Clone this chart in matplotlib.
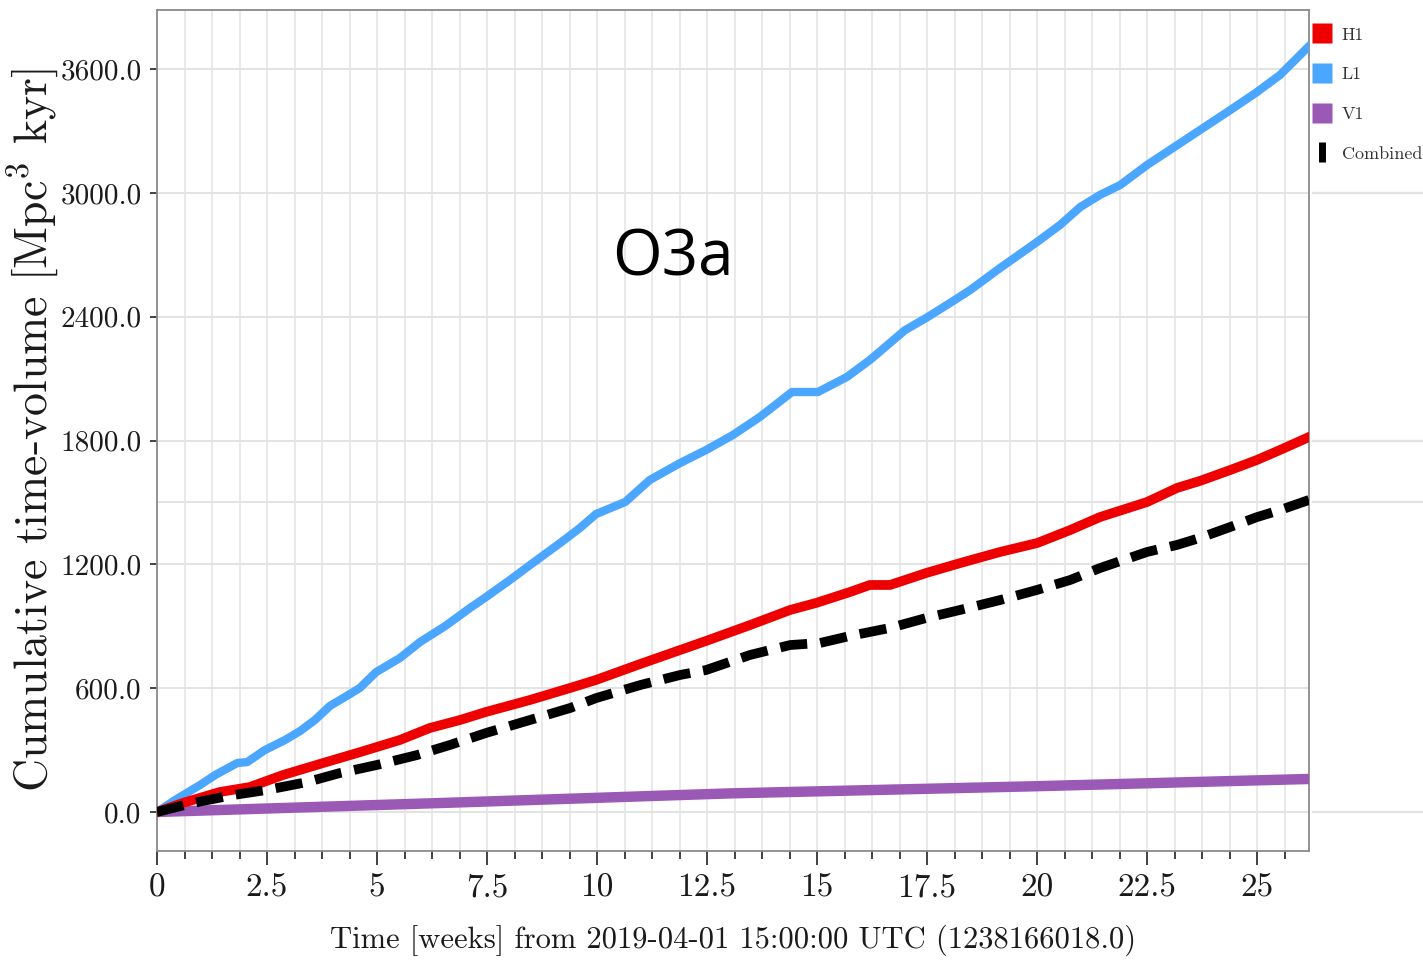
import matplotlib
matplotlib.use("Agg")
import matplotlib.pyplot as plt
from matplotlib.lines import Line2D
from matplotlib.transforms import blended_transform_factory

plt.rcParams['font.family'] = 'serif'
plt.rcParams['font.serif'] = ['cmr10']
plt.rcParams['mathtext.fontset'] = 'cm'
plt.rcParams['axes.formatter.use_mathtext'] = True

# ---- data: cumulative time-volume [Mpc^3 kyr] vs weeks since start of O3a ----
weeks_l1 = [0, 0.41, 0.98, 1.32, 1.82, 2.05, 2.45, 2.91, 3.25, 3.59, 3.93, 4.27,
            4.61, 4.98, 5.52, 5.98, 6.55, 7.11, 7.48, 8.02, 8.48, 9.16, 9.61,
            9.98, 10.64, 11.20, 11.89, 12.48, 13.09, 13.70, 14.43, 15.02, 15.68,
            16.20, 17.00, 17.48, 18.02, 18.48, 19.16, 20.00, 20.52, 20.98, 21.43,
            21.89, 22.50, 23.02, 23.70, 24.39, 25.00, 25.52, 26.18]
l1 = [0, 58, 131, 179, 237, 242, 300, 349, 392, 446, 514, 557,
      601, 678, 746, 824, 901, 988, 1042, 1124, 1197, 1303, 1376,
      1444, 1502, 1609, 1691, 1754, 1827, 1914, 2035, 2035, 2108,
      2190, 2335, 2394, 2466, 2529, 2636, 2762, 2844, 2931, 2990,
      3038, 3135, 3208, 3304, 3401, 3489, 3571, 3711]

weeks_h1 = [0, 0.59, 1.43, 2.11, 2.86, 3.77, 4.55, 5.52, 6.20, 6.89, 7.48, 8.48,
            9.39, 9.98, 10.98, 11.89, 12.48, 13.48, 14.39, 14.98, 15.75, 16.20,
            16.66, 17.48, 18.25, 19.16, 20.00, 20.75, 21.43, 22.50, 23.18, 23.70,
            24.39, 25.00, 25.52, 26.18]
h1 = [0, 44, 97, 121, 179, 237, 286, 349, 407, 446, 485, 543,
      601, 640, 717, 785, 829, 906, 979, 1013, 1066, 1100,
      1100, 1158, 1206, 1260, 1303, 1366, 1429, 1502, 1570, 1604,
      1657, 1706, 1754, 1817]

weeks_v1 = [0, 6.66, 13.0, 20.0, 26.18]
v1 = [0, 45, 90, 125, 160]

weeks_comb = [0, 0.82, 1.73, 2.50, 3.41, 4.16, 5.00, 5.91, 6.66, 7.48, 8.48, 9.39,
              9.98, 10.98, 11.89, 12.48, 13.48, 14.39, 15.07, 15.75, 16.66, 17.48,
              18.25, 19.16, 20.00, 20.75, 21.43, 22.50, 23.18, 23.70, 24.39, 25.00,
              25.52, 26.18]
combined = [0, 44, 82, 107, 145, 189, 228, 276, 325, 383, 446, 504,
            552, 615, 664, 688, 761, 809, 819, 853, 892, 940,
            979, 1027, 1076, 1124, 1182, 1260, 1294, 1328, 1381, 1429,
            1463, 1512]

detectors = ['H1', 'L1', 'V1', 'Combined']
colors = {'H1': '#ee0000', 'L1': '#4ba6ff', 'V1': '#9b59b6', 'Combined': '#000000'}

x_major = [0, 2.5, 5, 7.5, 10, 12.5, 15, 17.5, 20, 22.5, 25]
x_labels = ['0', '2.5', '5', '7.5', '10', '12.5', '15', '17.5', '20', '22.5', '25']
y_major = [0, 600, 1200, 1800, 2400, 3000, 3600]
y_labels = ['0.0', '600.0', '1200.0', '1800.0', '2400.0', '3000.0', '3600.0']
extra_grid = [1500]
outer_rules = [0, 1500, 1800, 3000]

W, H = 1423, 977
fig = plt.figure(figsize=(W / 100, H / 100), dpi=100)
ax = fig.add_axes([157 / W, (H - 851) / H, (1309 - 157) / W, (851 - 10) / H])

grid_c = '#e3e3e3'
ax.set_xlim(0, 26.18)
ax.set_ylim(-189, 3886)

ax.set_xticks(x_major)
ax.set_xticklabels(x_labels)
ax.set_xticks([i * 0.625 for i in range(42) if i % 4], minor=True)
ax.set_yticks(y_major)
ax.set_yticklabels(y_labels)

ax.grid(True, which='both', axis='x', color=grid_c, lw=1.1, zorder=0)
ax.grid(True, which='major', axis='y', color=grid_c, lw=1.4, zorder=0)
for v in extra_grid:
    ax.axhline(v, color=grid_c, lw=1.4, zorder=0)
ax.set_axisbelow(True)

ax.tick_params(axis='x', which='major', length=10, width=1.2, color='#222222',
               labelsize=24, pad=6, labelcolor='#1a1a1a')
ax.tick_params(axis='x', which='minor', length=6, width=1.2, color='#222222')
ax.tick_params(axis='y', which='major', length=5, width=1.2, color='#222222',
               labelsize=21, pad=6, labelcolor='#1a1a1a')
for s in ax.spines.values():
    s.set_color('#8a8a8a')
    s.set_linewidth(1.3)

# detector curves
ax.plot(weeks_v1, v1, color=colors['V1'], lw=7.5, solid_capstyle='butt', zorder=3)
ax.plot(weeks_l1, l1, color=colors['L1'], lw=6.0, solid_joinstyle='round', zorder=4)
ax.plot(weeks_h1, h1, color=colors['H1'], lw=7.0, solid_joinstyle='round', zorder=5)
ax.plot(weeks_comb, combined, color=colors['Combined'], lw=7.0,
        dashes=(2.8, 1.35), zorder=6)

ax.set_xlabel('Time [weeks] from 2019-04-01 15:00:00 UTC (1238166018.0)',
              fontsize=22, color='#1a1a1a')
ax.xaxis.set_label_coords(0.5, -0.088)
ax.set_ylabel('Cumulative time-volume [Mpc$^3$ kyr]', fontsize=33, color='#1a1a1a')
ax.yaxis.set_label_coords(-0.083, 0.5)

# rules continuing past the right edge of the axes
trans = blended_transform_factory(fig.transFigure, ax.transData)
for v in outer_rules:
    ax.plot([1313 / W, 1.0], [v, v], transform=trans, color=grid_c, lw=1.6,
            clip_on=False, zorder=0)

# legend
handles = [
    Line2D([], [], ls='none', marker='s', ms=14, mec='none', color=colors['H1']),
    Line2D([], [], ls='none', marker='s', ms=14, mec='none', color=colors['L1']),
    Line2D([], [], ls='none', marker='s', ms=14, mec='none', color=colors['V1']),
    Line2D([], [], ls='none', marker='|', ms=15, mew=5, color=colors['Combined']),
]
leg = ax.legend(handles, detectors, loc='upper left',
                bbox_to_anchor=(1313 / W, 1 - 27 / H), bbox_transform=fig.transFigure,
                frameon=False, fontsize=13, handlelength=1.05, handletextpad=0.55,
                labelspacing=1.33, borderpad=0, borderaxespad=0)
for t in leg.get_texts():
    t.set_color('#333333')

fig.text(673 / W, 1 - 275 / H, 'O3a', family='Open Sans', fontsize=46,
         ha='center', va='baseline', color='#000000')

fig.savefig('out.png', dpi=100)
